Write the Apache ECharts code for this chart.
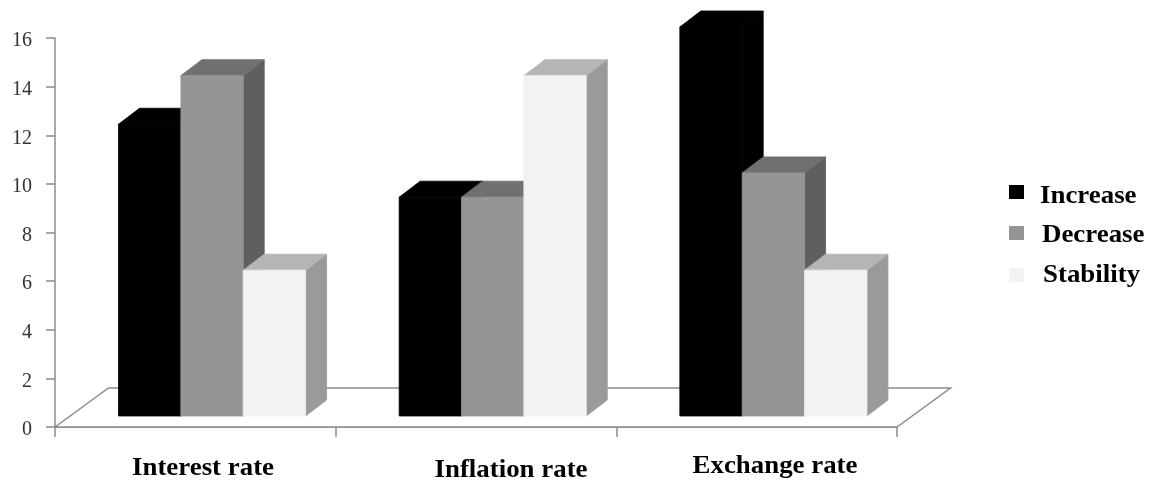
<!DOCTYPE html>
<html>
<head>
<meta charset="utf-8">
<title>Rate expectations</title>
<script src="https://cdn.jsdelivr.net/npm/echarts@6/dist/echarts.min.js"></script>
<style>
  html, body { margin: 0; padding: 0; background: #fff; }
  #chart { width: 1158px; height: 480px; }
</style>
</head>
<body>
<div id="chart"></div>
<script>
// Survey counts per rate
const categories = ['Interest rate', 'Inflation rate', 'Exchange rate'];
const seriesNames = ['Increase', 'Decrease', 'Stability'];
const increase = [12, 9, 16];
const decrease = [14, 9, 10];
const stability = [6, 14, 6];
const seriesValues = [increase, decrease, stability];

// Box shading: front, top and side face of each series
const faceColors = [
  { front: '#000000', top: '#000000', side: '#000000' },
  { front: '#959595', top: '#707070', side: '#5f5f5f' },
  { front: '#f2f2f2', top: '#b5b5b5', side: '#9a9a9a' }
];

// Perspective of the floor and of the boxes standing on it
const FLOOR_DX = 53.5, FLOOR_DY = 39;
const BAR_DX = 21, BAR_DY = 16;
const BASE_LIFT = 11;
const GROUP_INSET = 63.5, BAR_SHARE = 0.2222;

const serifBold = 'bold 25px "Liberation Serif"';
const TEXT_STRETCH = 1.075;

function renderFloor(params) {
  const r = params.coordSys;
  const b = r.y + r.height;
  return {
    type: 'polygon',
    shape: { points: [
      [r.x, b],
      [r.x + FLOOR_DX, b - FLOOR_DY],
      [r.x + r.width + FLOOR_DX, b - FLOOR_DY],
      [r.x + r.width, b]
    ] },
    style: { fill: '#ffffff', stroke: '#8c8c8c', lineWidth: 1.5 },
    silent: true
  };
}

function boxRenderer(seriesIndex) {
  return function (params, api) {
    const cat = api.value(0);
    const top = api.coord([cat, api.value(1)]);
    const base = api.coord([cat, 0]);
    const band = api.size([1, 0])[0];
    const w = band * BAR_SHARE;
    const x0 = top[0] - band / 2 + GROUP_INSET + seriesIndex * w;
    const x1 = x0 + w;
    const y0 = top[1] - BASE_LIFT;
    const y1 = base[1] - BASE_LIFT;
    const c = faceColors[seriesIndex];
    const face = (points, fill) => ({
      type: 'polygon',
      shape: { points },
      style: { fill, stroke: fill, lineWidth: 0.8, lineJoin: 'round' }
    });
    return {
      type: 'group',
      children: [
        face([[x1, y0], [x1 + BAR_DX, y0 - BAR_DY], [x1 + BAR_DX, y1 - BAR_DY], [x1, y1]], c.side),
        face([[x0, y0], [x0 + BAR_DX, y0 - BAR_DY], [x1 + BAR_DX, y0 - BAR_DY], [x1, y0]], c.top),
        face([[x0, y0], [x1, y0], [x1, y1], [x0, y1]], c.front)
      ]
    };
  };
}

// Hand-placed captions under the axis and beside the plot
const categoryLabelSpots = [[203, 469], [511, 471], [775, 467]];
const legendTextSpots = [[1040, 197], [1042, 236], [1043, 276]];
const legendSwatchSpots = [[1009, 185], [1009, 226], [1009, 268]];

function stretchedText(text, x, y, align) {
  return {
    type: 'text',
    x, y,
    scaleX: TEXT_STRETCH,
    style: { text, font: serifBold, fill: '#000000', textAlign: align, textVerticalAlign: 'middle' }
  };
}

const graphicElements = [];
categories.forEach((name, i) => {
  graphicElements.push(stretchedText(name, categoryLabelSpots[i][0], categoryLabelSpots[i][1], 'center'));
});
seriesNames.forEach((name, i) => {
  graphicElements.push({
    type: 'rect',
    shape: { x: legendSwatchSpots[i][0], y: legendSwatchSpots[i][1], width: 15, height: 14 },
    style: { fill: faceColors[i].front }
  });
  graphicElements.push(stretchedText(name, legendTextSpots[i][0], legendTextSpots[i][1], 'left'));
});

const chart = echarts.init(document.getElementById('chart'), null, { renderer: 'canvas' });
chart.setOption({
  animation: false,
  backgroundColor: '#ffffff',
  grid: { left: 55, top: 38, width: 842, height: 389, containLabel: false },
  xAxis: {
    type: 'category',
    data: categories,
    boundaryGap: true,
    axisLine: { lineStyle: { color: '#8c8c8c', width: 1.5 } },
    axisTick: { show: true, alignWithLabel: false, length: 10, lineStyle: { color: '#8c8c8c', width: 1.5 } },
    axisLabel: { show: false },
    splitLine: { show: false }
  },
  yAxis: {
    type: 'value',
    min: 0,
    max: 16,
    interval: 2,
    axisLine: { show: true, lineStyle: { color: '#8c8c8c', width: 1.5 } },
    axisTick: { show: true, length: 9, lineStyle: { color: '#8c8c8c', width: 1.5 } },
    axisLabel: {
      margin: 23,
      formatter: '{tick|{value}}',
      rich: {
        tick: { fontFamily: 'Liberation Serif', fontSize: 20, color: '#333333', padding: [6, 0, 0, 0] }
      }
    },
    splitLine: { show: false }
  },
  series: [
    {
      type: 'custom',
      name: 'Floor',
      silent: true,
      z: 1,
      data: [[0, 0]],
      encode: { x: 0, y: 1 },
      renderItem: renderFloor
    }
  ].concat(seriesNames.map((name, i) => ({
    type: 'custom',
    name,
    z: 2 + i,
    clip: false,
    data: seriesValues[i].map((v, c) => [c, v]),
    encode: { x: 0, y: 1 },
    renderItem: boxRenderer(i)
  }))),
  graphic: { elements: graphicElements }
});
</script>
</body>
</html>
